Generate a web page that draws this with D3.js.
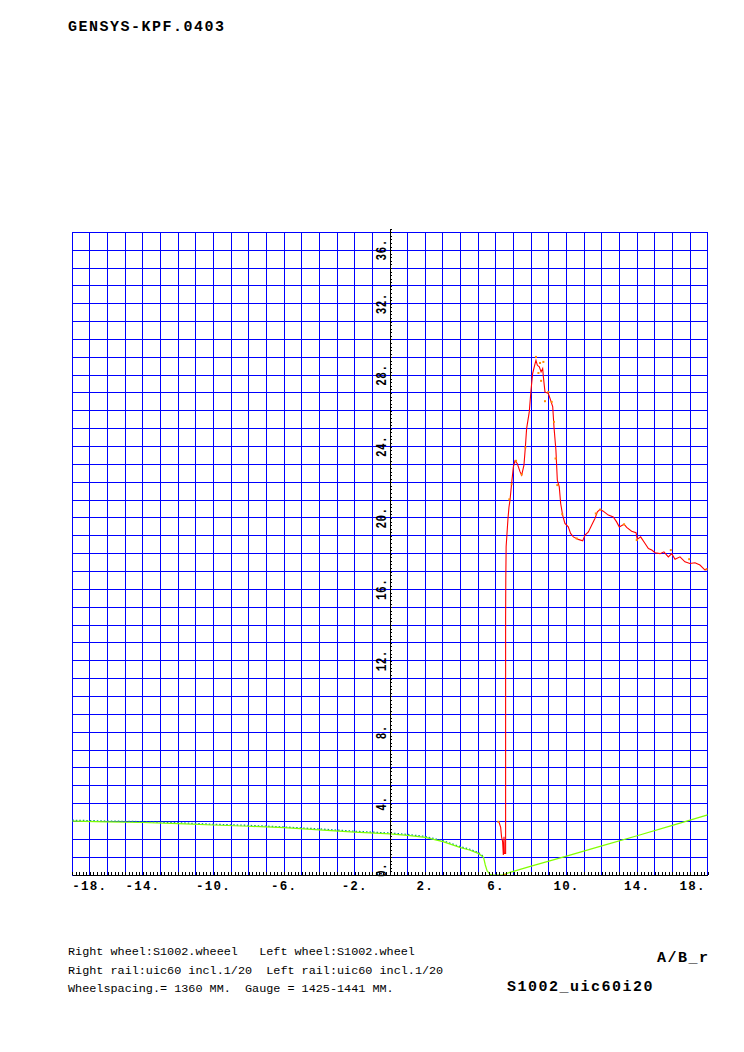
<!DOCTYPE html>
<html><head><meta charset="utf-8">
<script src="https://cdn.jsdelivr.net/npm/d3@7"></script>
<style>body{margin:0;background:#fff}svg{display:block}</style>
</head><body>
<script>
// ---------- data ----------
const titleText = "GENSYS-KPF.0403";
const xDomain = [-18, 18];
const yDomain = [0, 36];
const xTickLabels = [-18, -14, -10, -6, -2, 2, 6, 10, 14, 18];
const yTickLabels = [0, 4, 8, 12, 16, 20, 24, 28, 32, 36];
const footerLines = [
  "Right wheel:S1002.wheeel   Left wheel:S1002.wheel",
  "Right rail:uic60 incl.1/20  Left rail:uic60 incl.1/20",
  "Wheelspacing.= 1360 MM.  Gauge = 1425-1441 MM."
];
const codeLabel = "A/B_r";
const caseLabel = "S1002_uic60i20";

// red series (A/B ratio)
const redX = [6.17,6.27,6.32,6.38,6.42,6.46,6.48,6.55,6.55,6.55,6.56,6.58,6.68,6.74,6.80,6.89,6.99,7.08,7.21,7.37,7.46,7.59,7.67,7.74,7.89,7.99,8.08,8.22,8.27,8.35,8.46,8.56,8.65,8.69,8.78,8.97,9.10,9.22,9.29,9.40,9.48,9.59,9.67,9.78,9.91,10.10,10.23,10.39,10.67,10.92,11.05,11.24,11.43,11.61,11.75,11.90,12.08,12.37,12.65,12.84,12.99,13.26,13.41,13.69,13.94,14.01,14.20,14.45,14.64,14.83,15.02,15.30,15.52,15.77,15.96,16.15,16.43,16.71,16.99,17.28,17.56,17.85,17.98];
const redY = [2.98,2.67,2.14,1.87,1.12,2.14,1.21,1.21,5.5,14.3,16.5,18.4,19.9,20.6,21.0,21.93,22.86,23.2,23.05,22.58,22.4,22.96,23.98,25.0,25.94,27.16,28.09,28.65,28.83,28.55,28.46,28.18,28.37,27.9,27.06,26.97,26.6,26.22,25.1,23.8,22.12,21.74,20.81,20.16,19.69,19.5,19.13,18.94,18.8,18.72,19.04,19.22,19.6,19.97,20.34,20.48,20.38,20.16,20.06,19.78,19.5,19.65,19.47,19.26,19.17,18.8,18.94,18.57,18.29,18.2,18.05,18.0,18.1,17.82,18.0,17.68,17.82,17.54,17.45,17.49,17.36,17.08,17.17];

// orange scattered points
const orangeX = [6.14,6.52,6.76,6.89,7.14,7.46,7.67,8.27,8.41,8.5,8.56,8.69,8.78,8.97,9.16,9.29,9.38,9.48,9.76,10.58,11.66,11.92,13.26,13.98,15.91,16.95,17.94];
const orangeY = [2.98,0.0,21.04,21.89,23.2,22.44,23.95,29.02,28.12,28.68,27.68,28.74,26.54,27.06,26.5,25.38,23.33,21.84,20.21,18.85,20.25,20.47,19.64,18.76,18.2,17.69,17.12];

// green series
const greenX = [-18,-16,-14,-12,-10,-8,-6,-4,-2,0,1,2,3,4,4.5,5,5.3,5.4,5.5,5.65,5.75,6.35,6.8,8,10,12,14,16,18];
const greenY = [3.02,2.98,2.94,2.88,2.8,2.73,2.65,2.53,2.4,2.3,2.22,2.11,1.87,1.53,1.4,1.21,0.99,0.56,0.24,0.05,0.0,0.0,0.15,0.5,1.06,1.63,2.2,2.78,3.37];

// teal dotted series (left flank)
const tealX = [-18,-16,-14,-12,-10,-8,-6,-4,-2,0,1,2,3,4,4.5,5,5.3];
const tealY = [3.07,3.02,2.99,2.93,2.84,2.78,2.69,2.58,2.45,2.35,2.27,2.16,1.92,1.58,1.45,1.26,1.04];

// ---------- layout ----------
const W = 744, H = 1052;
const svg = d3.select("body").append("svg").attr("width", W).attr("height", H);
const x = d3.scaleLinear().domain(xDomain).range([72.3, 707.7]);
const y = d3.scaleLinear().domain(yDomain).range([875, 232.3]);

const mono = "'Liberation Mono','Courier New',monospace";

// title
svg.append("text").attr("x", 68).attr("y", 31)
  .attr("font-family", mono).attr("font-weight", "bold").attr("font-size", 15)
  .attr("letter-spacing", 1.5).attr("fill", "#000").text(titleText);

// grid
const grid = svg.append("g").attr("shape-rendering", "crispEdges").attr("stroke", "#0000ff").attr("stroke-width", 1);
const gx = d3.range(xDomain[0], xDomain[1] + 0.001, 1);
const gy = d3.range(yDomain[0], yDomain[1] + 0.001, 1);
grid.selectAll("line.v").data(gx).join("line").attr("class", "v")
  .attr("x1", d => x(d)).attr("x2", d => x(d)).attr("y1", y(36)).attr("y2", y(0));
grid.selectAll("line.h").data(gy).join("line").attr("class", "h")
  .attr("x1", x(-18)).attr("x2", x(18)).attr("y1", d => y(d)).attr("y2", d => y(d));

// clip
svg.append("defs").append("clipPath").attr("id", "clip").append("rect")
  .attr("x", x(-18)).attr("y", y(36)).attr("width", x(18) - x(-18)).attr("height", y(0) - y(36) + 1);
const plot = svg.append("g").attr("clip-path", "url(#clip)");

const line = d3.line().x(d => x(d[0])).y(d => y(d[1]));
const zip = (a, b) => a.map((v, i) => [v, b[i]]);

plot.append("path").datum(zip(tealX, tealY)).attr("d", line)
  .attr("fill", "none").attr("stroke", "#008c8c").attr("stroke-width", 1.3).attr("stroke-dasharray", "1.5,2");
plot.append("path").datum(zip(greenX, greenY)).attr("d", line)
  .attr("fill", "none").attr("stroke", "#80ff00").attr("stroke-width", 1.2);
plot.append("path").datum(zip(redX, redY)).attr("d", line)
  .attr("fill", "none").attr("stroke", "#ff0000").attr("stroke-width", 1.1);
plot.selectAll("rect.o").data(zip(orangeX, orangeY)).join("rect").attr("class", "o")
  .attr("x", d => x(d[0]) - 1).attr("y", d => y(d[1]) - 1).attr("width", 2).attr("height", 2)
  .attr("fill", "#ff8c00");

// x axis with minor ticks
const xMinor = d3.range(-18, 18.001, 0.2);
const xAxis = svg.append("g").attr("transform", `translate(0,${y(0)})`)
  .call(d3.axisBottom(x).tickValues(xMinor).tickSize(-3).tickSizeOuter(0).tickFormat(""));
xAxis.selectAll("line,path").attr("stroke", "#000").attr("shape-rendering", "crispEdges");

// x labels
svg.append("g").selectAll("text").data(xTickLabels).join("text")
  .attr("x", (d, i) => i === 0 ? x(d) : i === xTickLabels.length - 1 ? x(d) - 2 : x(d))
  .attr("y", 889.5)
  .attr("text-anchor", (d, i) => i === 0 ? "start" : i === xTickLabels.length - 1 ? "end" : "middle")
  .attr("font-family", mono).attr("font-weight", "bold").attr("font-size", 12.5)
  .attr("letter-spacing", 1.2).attr("fill", "#000").text(d => d + ".");

// y axis with minor ticks
const yMinor = d3.range(0, 36.201, 0.2);
const yAxis = svg.append("g").attr("transform", `translate(${x(0)},0)`)
  .call(d3.axisRight(d3.scaleLinear().domain([0, 36.2]).range([y(0), y(36.2)])).tickValues(yMinor).tickSize(2).tickSizeOuter(0).tickFormat(""));
yAxis.selectAll("line,path").attr("stroke", "#000").attr("shape-rendering", "crispEdges");

// y labels (rotated)
svg.append("g").selectAll("text").data(yTickLabels).join("text")
  .attr("transform", (d, i) => {
    let yy = y(d);
    if (i === 0) yy = y(0) + 2;
    if (i === yTickLabels.length - 1) yy = y(36) + 7;
    return `translate(386,${yy}) rotate(-90) scale(0.85,1.15)`;
  })
  .attr("text-anchor", (d, i) => i === 0 ? "start" : i === yTickLabels.length - 1 ? "end" : "middle")
  .attr("font-family", mono).attr("font-weight", "bold").attr("font-size", 13)
  .attr("letter-spacing", 0.5).attr("fill", "#000").text(d => d + ".");

// footer
svg.append("g").selectAll("text").data(footerLines).join("text")
  .attr("x", 68).attr("y", (d, i) => 955 + i * 18.5)
  .attr("font-family", mono).attr("font-size", 11.8).attr("fill", "#000")
  .attr("xml:space", "preserve").style("white-space", "pre").text(d => d);

svg.append("text").attr("x", 657).attr("y", 962)
  .attr("font-family", mono).attr("font-weight", "bold").attr("font-size", 15)
  .attr("letter-spacing", 1.5).attr("fill", "#000").text(codeLabel);
svg.append("text").attr("x", 507).attr("y", 991)
  .attr("font-family", mono).attr("font-weight", "bold").attr("font-size", 15)
  .attr("letter-spacing", 1.5).attr("fill", "#000").text(caseLabel);
</script>
</body></html>
